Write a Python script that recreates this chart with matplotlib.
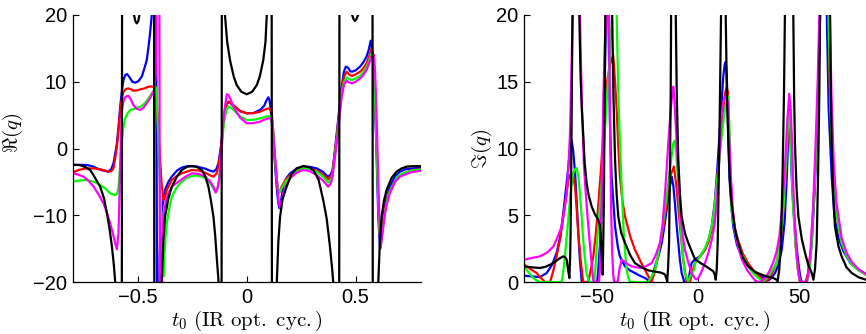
import numpy as np
import matplotlib
matplotlib.use("Agg")
import matplotlib.pyplot as plt

nan = np.nan
BR = (nan, nan)  # break between branches of a curve

# ---------------- Re(q) versus t0 (left panel) ----------------
re_black = [
    (-0.80, -2.47), (-0.78, -2.45), (-0.765, -2.5), (-0.74, -2.8), (-0.719, -3.22), (-0.70, -4.2),
    (-0.673, -5.72), (-0.655, -7.5), (-0.642, -9.7), (-0.63, -12.0), (-0.619, -14.7), (-0.61, -17.5),
    (-0.604, -20.0), (-0.598, -24.0), BR,
    (-0.574, -40.0), (-0.572, 40.0), BR,
    (-0.528, 24.0), (-0.52, 20.5), (-0.512, 19.1), (-0.505, 18.75), (-0.498, 19.1), (-0.49, 20.5),
    (-0.482, 24.0), BR,
    (-0.426, 40.0), (-0.424, -40.0), BR,
    (-0.395, -26.0), (-0.39, -19.5), (-0.383, -14.0), (-0.375, -10.2), (-0.36, -7.5), (-0.344, -5.72),
    (-0.32, -4.2), (-0.298, -3.22), (-0.275, -2.75), (-0.252, -2.62), (-0.23, -2.75), (-0.206, -3.22),
    (-0.19, -4.2), (-0.176, -5.72), (-0.165, -7.7), (-0.153, -10.2), (-0.145, -13.0), (-0.138, -16.2),
    (-0.13, -19.7), (-0.125, -24.0), BR,
    (-0.116, -40.0), (-0.114, 40.0), BR,
    (-0.104, 26.0), (-0.10, 20.0), (-0.09, 16.0), (-0.077, 13.26), (-0.06, 10.8), (-0.046, 9.5),
    (-0.025, 8.5), (0.0, 8.12), (0.025, 8.5), (0.046, 9.5), (0.06, 10.8), (0.076, 13.26), (0.086, 16.0),
    (0.092, 20.0), (0.096, 26.0), BR,
    (0.114, 40.0), (0.116, -40.0), BR,
    (0.133, -26.0), (0.138, -20.0), (0.145, -14.0), (0.153, -10.2), (0.165, -7.5), (0.183, -5.72),
    (0.205, -3.9), (0.229, -2.97), (0.26, -2.62), (0.285, -2.8), (0.306, -3.22), (0.33, -4.7),
    (0.351, -7.72), (0.367, -10.5), (0.382, -14.7), (0.392, -18.0), (0.397, -20.0), (0.402, -25.0), BR,
    (0.424, -40.0), (0.426, 40.0), BR,
    (0.478, 23.0), (0.484, 20.0), (0.49, 19.4), (0.497, 19.1), (0.504, 19.4), (0.511, 20.0), (0.517, 23.0), BR,
    (0.577, 40.0), (0.579, -40.0), BR,
    (0.60, -26.0), (0.604, -20.0), (0.61, -15.0), (0.619, -10.2), (0.63, -7.8), (0.642, -6.2),
    (0.665, -4.4), (0.688, -3.47), (0.71, -3.0), (0.734, -2.72), (0.76, -2.65), (0.80, -2.65),
]

re_blue = [
    (-0.80, -2.47), (-0.765, -2.45), (-0.734, -2.47), (-0.71, -2.65), (-0.688, -2.97), (-0.66, -3.3),
    (-0.635, -3.47), (-0.622, -3.1), (-0.612, -2.22), (-0.604, -0.8), (-0.596, 0.78), (-0.588, 3.5),
    (-0.581, 6.26), (-0.573, 8.7), (-0.566, 10.26), (-0.558, 11.0), (-0.55, 11.16), (-0.543, 10.9),
    (-0.535, 10.5), (-0.525, 10.0), (-0.512, 9.86), (-0.497, 10.1), (-0.482, 10.76), (-0.47, 12.0),
    (-0.459, 13.26), (-0.45, 15.5), (-0.444, 17.25), (-0.436, 20.0), (-0.43, 24.0), BR,
    (-0.418, 40.0), (-0.410, -40.0), BR,
    (-0.406, -40.0), (-0.40, -16.0), (-0.395, -11.5), (-0.39, -9.2), (-0.375, -6.2), (-0.36, -5.0),
    (-0.344, -4.2), (-0.32, -3.3), (-0.298, -2.85), (-0.268, -2.62), (-0.23, -2.7), (-0.191, -3.02),
    (-0.17, -3.3), (-0.153, -3.47), (-0.14, -3.1), (-0.13, -2.22), (-0.122, -0.5), (-0.115, 1.27),
    (-0.108, 3.6), (-0.10, 5.77), (-0.092, 6.6), (-0.084, 7.0), (-0.075, 6.8), (-0.061, 6.37),
    (-0.03, 5.6), (0.0, 5.27), (0.03, 5.3), (0.061, 5.77), (0.08, 6.4), (0.092, 7.3), (0.099, 7.67),
    (0.105, 7.2), (0.11, 5.77), (0.118, 3.0), (0.125, -0.22), (0.132, -3.5), (0.14, -6.7), (0.145, -8.2),
    (0.15, -8.96), (0.157, -7.8), (0.168, -5.72), (0.183, -4.4), (0.199, -3.72), (0.23, -3.0),
    (0.26, -2.72), (0.29, -2.75), (0.321, -2.97), (0.35, -3.5), (0.365, -4.0), (0.374, -4.22),
    (0.385, -3.9), (0.394, -3.22), (0.403, -0.8), (0.413, 2.27), (0.425, 6.0), (0.436, 9.26),
    (0.446, 11.5), (0.455, 12.26), (0.465, 12.1), (0.475, 11.6), (0.482, 11.5), (0.50, 11.7),
    (0.52, 12.26), (0.535, 12.9), (0.55, 13.76), (0.56, 14.8), (0.569, 16.15), (0.575, 15.0),
    (0.581, 12.26), (0.587, 7.5), (0.593, 2.3), (0.598, -3.5), (0.604, -10.2), (0.611, -14.7),
    (0.618, -12.8), (0.627, -10.2), (0.64, -7.6), (0.657, -5.72), (0.68, -4.2), (0.703, -3.47),
    (0.73, -3.1), (0.764, -2.97), (0.80, -2.9),
]

re_red = [
    (-0.80, -3.62), (-0.77, -3.2), (-0.734, -2.97), (-0.70, -3.0), (-0.673, -3.12), (-0.65, -3.3),
    (-0.635, -3.47), (-0.622, -3.4), (-0.612, -2.97), (-0.604, -1.5), (-0.596, 0.27), (-0.588, 3.0),
    (-0.581, 5.77), (-0.573, 7.5), (-0.566, 8.5), (-0.555, 8.9), (-0.543, 9.0), (-0.53, 8.85),
    (-0.52, 8.66), (-0.505, 8.7), (-0.489, 8.86), (-0.47, 9.0), (-0.451, 9.26), (-0.436, 9.3),
    (-0.425, 9.2), (-0.418, 8.5), (-0.41, 5.0), (-0.40, -0.5), (-0.39, -5.72), (-0.382, -7.72),
    (-0.375, -7.2), (-0.367, -6.2), (-0.344, -4.72), (-0.32, -4.1), (-0.298, -3.72), (-0.252, -3.22),
    (-0.22, -3.3), (-0.191, -3.62), (-0.17, -4.0), (-0.153, -4.22), (-0.14, -3.8), (-0.13, -2.72),
    (-0.122, -0.8), (-0.115, 1.27), (-0.108, 3.6), (-0.10, 5.77), (-0.092, 6.6), (-0.084, 7.0),
    (-0.075, 6.9), (-0.061, 6.5), (-0.03, 5.6), (0.0, 5.27), (0.03, 5.3), (0.061, 5.5), (0.08, 5.8),
    (0.099, 6.0), (0.108, 5.9), (0.115, 5.27), (0.122, 2.5), (0.13, -1.72), (0.138, -4.8),
    (0.145, -6.7), (0.152, -6.4), (0.16, -5.72), (0.18, -4.6), (0.199, -3.97), (0.23, -3.3),
    (0.26, -2.97), (0.29, -3.05), (0.321, -3.32), (0.35, -3.9), (0.374, -4.62), (0.385, -4.3),
    (0.394, -3.47), (0.403, -1.0), (0.413, 1.77), (0.425, 5.5), (0.436, 8.76), (0.447, 10.8),
    (0.459, 11.5), (0.47, 11.1), (0.482, 10.86), (0.50, 11.1), (0.52, 11.5), (0.535, 12.0),
    (0.55, 12.76), (0.562, 13.8), (0.573, 15.0), (0.579, 14.0), (0.584, 12.26), (0.59, 7.0),
    (0.596, 1.27), (0.602, -5.5), (0.608, -11.7), (0.616, -14.2), (0.625, -11.2), (0.635, -9.0),
    (0.65, -6.8), (0.665, -5.97), (0.69, -4.4), (0.718, -3.72), (0.76, -3.25), (0.80, -3.12),
]

re_green = [
    (-0.80, -4.97), (-0.77, -4.8), (-0.734, -4.72), (-0.70, -5.0), (-0.673, -5.47), (-0.65, -6.0),
    (-0.627, -6.72), (-0.604, -6.97), (-0.596, -6.8), (-0.589, -5.97), (-0.581, -2.5), (-0.573, 1.27),
    (-0.566, 3.2), (-0.558, 4.52), (-0.547, 5.3), (-0.535, 5.77), (-0.51, 6.0), (-0.489, 6.26),
    (-0.47, 6.7), (-0.451, 7.52), (-0.435, 8.3), (-0.425, 8.76), (-0.416, 9.16), (-0.41, 5.0),
    (-0.40, -4.0), (-0.39, -12.0), (-0.383, -19.2), (-0.378, -16.0), (-0.372, -13.0), (-0.367, -11.2),
    (-0.355, -8.8), (-0.344, -7.22), (-0.325, -6.0), (-0.306, -5.22), (-0.28, -4.5), (-0.252, -4.12),
    (-0.23, -4.05), (-0.206, -4.2), (-0.185, -4.6), (-0.168, -5.22), (-0.155, -5.9), (-0.145, -6.47),
    (-0.135, -6.0), (-0.127, -4.72), (-0.12, -2.2), (-0.115, -0.22), (-0.108, 2.8), (-0.10, 4.77),
    (-0.092, 5.8), (-0.084, 6.3), (-0.075, 6.2), (-0.061, 5.77), (-0.03, 4.8), (0.0, 4.27), (0.03, 4.3),
    (0.061, 4.52), (0.08, 4.7), (0.099, 4.87), (0.108, 4.8), (0.115, 4.52), (0.122, 1.8), (0.13, -1.72),
    (0.138, -4.8), (0.145, -6.47), (0.152, -6.5), (0.16, -5.97), (0.18, -4.9), (0.199, -4.22),
    (0.23, -3.4), (0.26, -2.97), (0.29, -3.1), (0.321, -3.47), (0.35, -4.2), (0.374, -5.12),
    (0.385, -4.8), (0.394, -3.97), (0.403, -1.5), (0.413, 1.27), (0.425, 5.0), (0.436, 8.26),
    (0.447, 10.0), (0.459, 10.66), (0.47, 10.4), (0.482, 10.26), (0.50, 10.5), (0.52, 10.86),
    (0.535, 11.5), (0.55, 12.26), (0.562, 13.2), (0.573, 14.26), (0.58, 13.0), (0.586, 10.0),
    (0.592, 5.0), (0.598, -2.0), (0.604, -8.0), (0.61, -12.5), (0.617, -13.8), (0.625, -12.0),
    (0.635, -9.5), (0.65, -7.0), (0.665, -5.8), (0.69, -4.3), (0.718, -3.7), (0.76, -3.3), (0.80, -3.15),
]

re_magenta = [
    (-0.80, -3.72), (-0.775, -3.9), (-0.749, -4.22), (-0.725, -4.9), (-0.703, -5.72), (-0.68, -6.9),
    (-0.658, -8.22), (-0.64, -9.8), (-0.627, -11.2), (-0.615, -12.7), (-0.604, -14.2), (-0.596, -15.1),
    (-0.589, -12.7), (-0.585, -8.0), (-0.581, -2.72), (-0.577, 2.0), (-0.573, 5.77), (-0.566, 7.1),
    (-0.558, 7.67), (-0.55, 7.85), (-0.543, 7.87), (-0.535, 7.5), (-0.52, 6.52), (-0.505, 5.95),
    (-0.489, 5.77), (-0.475, 6.1), (-0.459, 6.77), (-0.445, 7.5), (-0.436, 8.02), (-0.425, 8.76),
    (-0.418, 11.0), (-0.41, 40.0), BR,
    (-0.402, 40.0), (-0.398, -40.0), BR,
    (-0.392, -40.0), (-0.388, -14.0), (-0.383, -10.2), (-0.372, -8.0), (-0.36, -6.7), (-0.34, -5.6),
    (-0.314, -4.97), (-0.28, -4.2), (-0.252, -3.72), (-0.22, -3.8), (-0.191, -4.22), (-0.17, -4.9),
    (-0.153, -5.72), (-0.142, -6.6), (-0.134, -6.0), (-0.127, -4.72), (-0.12, -1.8), (-0.115, 0.78),
    (-0.108, 3.8), (-0.10, 6.26), (-0.092, 8.12), (-0.084, 8.02), (-0.075, 7.4), (-0.061, 6.26),
    (-0.03, 4.6), (0.0, 3.77), (0.03, 3.8), (0.061, 4.02), (0.08, 4.3), (0.099, 4.52), (0.108, 4.5),
    (0.115, 4.27), (0.122, 1.8), (0.13, -1.22), (0.138, -4.5), (0.145, -7.72), (0.153, -8.96),
    (0.16, -7.9), (0.168, -6.7), (0.183, -5.4), (0.199, -4.47), (0.23, -3.6), (0.26, -3.22),
    (0.29, -3.4), (0.321, -3.97), (0.35, -4.8), (0.374, -5.72), (0.385, -5.3), (0.394, -4.22),
    (0.403, -1.8), (0.413, 0.78), (0.425, 4.5), (0.436, 7.77), (0.447, 9.6), (0.459, 10.16),
    (0.47, 9.9), (0.482, 9.77), (0.50, 10.0), (0.52, 10.5), (0.535, 11.0), (0.55, 11.76),
    (0.562, 12.8), (0.573, 13.76), (0.584, 14.0), (0.589, 11.5), (0.593, 8.26), (0.599, 1.5),
    (0.604, -5.22), (0.609, -10.5), (0.614, -14.96), (0.62, -13.5), (0.627, -11.7), (0.64, -8.7),
    (0.657, -6.7), (0.68, -5.0), (0.703, -4.22), (0.75, -3.6), (0.80, -3.32),
]

# ---------------- Im(q) versus t0 (right panel) ----------------
im_black = [
    (-85.7, 1.17), (-82.0, 1.1), (-78.0, 1.05), (-75.0, 1.15), (-71.4, 1.42), (-68.5, 1.75),
    (-66.5, 1.92), (-65.5, 1.85), (-64.8, 1.67), (-64.2, 1.0), (-63.5, 0.3), (-63.1, 2.0),
    (-62.9, 3.66), (-62.5, 10.0), (-62.2, 16.0), (-61.9, 20.0), (-61.7, 25.0), BR,
    (-58.9, 25.0), (-58.6, 20.0), (-58.0, 15.5), (-57.4, 13.0), (-56.7, 11.14), (-56.0, 9.0),
    (-55.0, 7.4), (-54.0, 6.5), (-52.5, 5.65), (-51.0, 5.1), (-49.3, 4.66), (-48.6, 4.3),
    (-48.1, 3.66), (-47.6, 2.0), (-47.1, 0.55), (-46.8, 3.0), (-46.5, 6.16), (-46.2, 12.0),
    (-45.8, 20.0), (-45.6, 25.0), BR,
    (-42.6, 25.0), (-42.4, 20.0), (-41.8, 14.0), (-41.0, 9.15), (-40.2, 6.5), (-39.4, 4.91),
    (-38.0, 3.7), (-36.1, 2.92), (-33.5, 2.0), (-31.2, 1.42), (-28.0, 1.1), (-24.6, 0.87),
    (-21.5, 0.78), (-18.9, 0.72), (-17.0, 0.62), (-16.4, 0.55), (-15.8, 0.3), (-15.3, 0.05),
    (-14.9, 1.0), (-14.4, 2.92), (-14.0, 8.0), (-13.6, 14.0), (-13.4, 20.0), (-13.2, 25.0), BR,
    (-11.3, 25.0), (-11.1, 20.0), (-10.6, 14.0), (-9.85, 9.15), (-9.0, 6.5), (-8.2, 4.91),
    (-6.5, 3.6), (-4.9, 2.92), (-3.0, 2.2), (-1.6, 1.7), (0.8, 1.45), (3.3, 1.22), (5.5, 1.0),
    (7.4, 0.8), (8.2, 0.5), (8.6, 0.17), (9.1, 1.0), (9.55, 2.92), (10.0, 7.0), (10.6, 13.0),
    (11.2, 20.0), (11.4, 25.0), BR,
    (13.3, 25.0), (13.5, 20.0), (14.1, 14.0), (14.8, 10.4), (15.6, 7.5), (16.4, 5.9), (18.0, 4.0),
    (19.7, 2.92), (22.0, 1.8), (24.6, 1.17), (28.0, 0.75), (31.2, 0.55), (34.0, 0.4), (36.9, 0.3),
    (38.3, 0.2), (39.1, 0.05), (39.9, 1.0), (40.7, 2.92), (41.5, 8.0), (42.2, 14.0), (42.7, 20.0),
    (42.9, 25.0), BR,
    (46.6, 25.0), (46.8, 20.0), (47.2, 14.0), (47.6, 10.4), (48.4, 7.0), (49.3, 4.91), (51.0, 3.2),
    (52.6, 2.17), (54.3, 1.2), (55.9, 0.67), (56.7, 0.17), (57.5, 1.0), (58.3, 2.92), (59.0, 8.0),
    (59.6, 14.0), (60.0, 20.0), (60.2, 25.0), BR,
    (64.7, 25.0), (64.9, 20.0), (65.3, 14.0), (65.7, 10.4), (66.5, 6.5), (67.3, 4.16), (69.0, 2.7),
    (70.6, 1.92), (73.0, 1.1), (75.6, 0.67), (79.0, 0.35), (82.6, 0.17),
]

im_blue = [
    (-85.7, 0.47), (-82.0, 0.42), (-78.0, 0.37), (-74.7, 0.67), (-72.0, 1.3), (-69.8, 2.17),
    (-68.0, 3.4), (-66.5, 5.16), (-65.0, 7.2), (-64.0, 8.65), (-63.2, 9.8), (-62.4, 10.64),
    (-61.6, 9.8), (-60.7, 8.15), (-59.9, 6.0), (-59.1, 3.66), (-58.3, 1.6), (-57.4, 0.0),
    (-49.8, 0.0), (-49.3, 0.8), (-48.4, 2.92), (-47.6, 6.0), (-46.8, 10.4), (-46.0, 15.5),
    (-45.5, 20.0), (-45.3, 25.0), BR,
    (-44.5, 25.0), (-44.3, 20.0), (-43.5, 12.0), (-42.7, 7.9), (-41.0, 4.16), (-39.6, 2.6),
    (-38.6, 1.92), (-36.1, 1.17), (-33.5, 0.85), (-31.2, 0.67), (-28.5, 0.45), (-26.3, 0.3),
    (-23.8, 0.05), (-22.5, 0.5), (-21.3, 1.17), (-19.5, 2.0), (-18.0, 2.92), (-16.8, 4.1),
    (-15.6, 5.4), (-14.2, 7.0), (-13.1, 7.9), (-12.3, 7.2), (-11.5, 5.9), (-10.7, 4.3),
    (-9.85, 2.92), (-9.0, 1.6), (-8.2, 0.67), (-6.9, 0.0), (-4.9, 0.0), (-4.1, 0.8), (-3.3, 1.42),
    (-1.6, 1.7), (0.8, 1.92), (3.3, 2.42), (5.0, 3.1), (6.6, 4.16), (8.0, 5.8), (9.1, 7.9),
    (10.7, 11.6), (11.5, 13.5), (12.3, 15.4), (13.0, 16.3), (13.5, 16.5), (14.0, 15.5), (14.3, 14.1),
    (14.8, 11.0), (15.3, 7.9), (16.2, 5.8), (17.2, 4.16), (19.0, 2.8), (21.4, 1.92), (24.0, 1.3),
    (26.3, 0.92), (29.0, 0.62), (31.2, 0.42), (34.5, 0.12), (36.0, 0.3), (37.8, 0.67), (39.5, 1.3),
    (41.1, 2.42), (42.5, 4.5), (43.6, 7.9), (44.3, 11.0), (44.7, 12.9), (45.2, 11.5), (46.0, 7.9),
    (46.8, 5.5), (47.6, 4.16), (48.5, 2.5), (49.3, 1.42), (50.1, 0.5), (50.9, 0.0), (53.4, 0.0),
    (54.5, 1.0), (55.9, 2.92), (57.2, 6.5), (58.3, 10.4), (59.2, 15.0), (59.9, 20.0), (60.2, 25.0), BR,
    (63.1, 25.0), (63.3, 20.0), (64.2, 13.0), (65.7, 7.9), (67.0, 5.0), (69.0, 3.3), (71.5, 2.3),
    (75.0, 1.4), (79.0, 0.9), (82.6, 0.6),
]

im_red = [
    (-85.7, 1.3), (-82.5, 0.95), (-79.6, 0.67), (-77.5, 0.3), (-75.5, 0.0), (-73.0, 0.0),
    (-71.5, 0.8), (-69.8, 1.92), (-68.0, 3.3), (-66.5, 4.91), (-65.0, 6.5), (-64.0, 7.65),
    (-63.2, 8.0), (-62.4, 8.15), (-61.5, 7.8), (-60.7, 7.15), (-59.9, 5.5), (-59.1, 3.66),
    (-58.0, 1.7), (-56.7, 0.0), (-54.2, 0.0), (-53.0, 0.9), (-51.7, 1.92), (-50.5, 3.6),
    (-49.3, 5.65), (-48.0, 8.3), (-46.8, 11.14), (-45.1, 14.9), (-43.5, 16.3), (-41.9, 17.0),
    (-41.0, 15.0), (-40.2, 12.9), (-39.4, 10.2), (-38.6, 7.9), (-37.3, 6.0), (-36.1, 4.91),
    (-33.5, 3.4), (-31.2, 2.42), (-28.5, 1.55), (-26.3, 0.92), (-24.5, 0.4), (-23.0, 0.0),
    (-21.8, 0.6), (-20.5, 1.42), (-18.8, 2.8), (-17.2, 4.16), (-15.5, 6.0), (-13.9, 7.9),
    (-12.0, 8.65), (-11.3, 7.8), (-10.6, 6.9), (-9.8, 5.5), (-9.0, 4.16), (-8.2, 2.9), (-7.4, 1.67),
    (-6.5, 0.7), (-5.7, 0.0), (-4.1, 0.0), (-2.9, 0.8), (-1.6, 1.42), (0.8, 1.92), (3.3, 2.42),
    (5.0, 3.0), (6.6, 3.91), (8.0, 5.4), (9.1, 7.4), (10.3, 9.5), (11.5, 11.6), (12.3, 13.0),
    (13.2, 14.1), (14.0, 14.6), (14.6, 14.2), (15.3, 10.0), (16.4, 5.9), (18.0, 4.0), (19.7, 3.1),
    (22.0, 2.1), (24.6, 1.4), (27.0, 0.9), (29.6, 0.5), (32.0, 0.1), (33.0, 0.0), (34.5, 0.2),
    (36.5, 0.7), (38.6, 1.5), (40.5, 3.0), (41.9, 5.4), (43.2, 8.5), (44.3, 11.5), (45.0, 12.5),
    (45.7, 11.5), (46.8, 6.0), (47.8, 3.0), (49.0, 1.0), (50.1, 0.0), (52.8, 0.0), (54.0, 0.6),
    (55.5, 2.5), (57.0, 6.5), (58.3, 11.0), (59.3, 16.0), (60.0, 20.0), (60.3, 25.0), BR,
    (63.8, 25.0), (64.0, 20.0), (65.0, 13.0), (66.5, 7.9), (68.0, 5.0), (70.6, 3.0), (73.0, 2.0),
    (75.6, 1.4), (79.0, 0.9), (82.6, 0.55),
]

im_green = [
    (-85.7, 1.17), (-83.5, 0.7), (-81.3, 0.3), (-79.5, 0.1), (-78.0, 0.0), (-67.3, 0.0),
    (-66.5, 0.8), (-65.7, 1.92), (-64.5, 3.9), (-63.2, 6.16), (-62.4, 7.3), (-61.6, 8.15),
    (-60.7, 8.45), (-59.9, 8.53), (-59.1, 7.9), (-58.3, 6.66), (-57.5, 5.0), (-56.7, 3.16),
    (-55.8, 1.7), (-55.0, 0.6), (-53.7, 0.0), (-51.2, 0.0), (-50.6, 1.2), (-50.0, 2.66),
    (-48.8, 5.0), (-47.6, 7.4), (-46.3, 10.5), (-45.1, 13.6), (-43.5, 17.0), (-42.5, 20.0),
    (-42.2, 25.0), BR,
    (-40.5, 25.0), (-40.2, 20.0), (-39.4, 14.0), (-38.6, 10.4), (-37.7, 7.0), (-36.9, 4.16),
    (-36.1, 2.3), (-35.3, 0.92), (-34.5, 0.3), (-33.6, 0.0), (-24.6, 0.0), (-23.0, 0.4),
    (-21.3, 0.92), (-19.6, 2.2), (-18.0, 3.66), (-16.4, 5.5), (-14.8, 7.4), (-13.5, 9.0),
    (-12.3, 10.4), (-11.5, 10.6), (-10.8, 9.5), (-10.1, 7.9), (-9.3, 5.8), (-8.5, 3.66), (-7.5, 1.9),
    (-6.6, 0.67), (-4.9, 0.0), (-4.1, 0.42), (-2.0, 0.92), (-1.6, 1.42), (0.8, 1.9), (3.3, 2.54),
    (5.0, 3.2), (6.6, 4.16), (8.0, 5.6), (9.1, 7.4), (10.3, 9.0), (11.5, 10.9), (12.8, 12.6),
    (14.0, 13.6), (14.8, 13.9), (15.4, 11.0), (16.0, 7.5), (16.4, 5.4), (18.0, 3.8), (19.7, 2.92),
    (22.0, 1.9), (24.6, 1.17), (27.0, 0.65), (29.6, 0.3), (32.0, 0.0), (34.5, 0.42), (36.5, 0.9),
    (38.6, 1.42), (40.3, 3.0), (41.9, 5.4), (43.2, 9.0), (44.3, 12.1), (44.7, 12.76), (45.3, 11.5),
    (46.0, 8.3), (46.8, 5.4), (47.7, 3.2), (48.5, 1.67), (49.3, 0.7), (50.1, 0.0), (53.4, 0.0),
    (54.2, 0.4), (55.0, 0.92), (56.2, 3.8), (57.5, 7.9), (58.7, 13.0), (59.6, 18.0), (60.0, 20.0),
    (60.3, 25.0), BR,
    (64.0, 25.0), (64.2, 20.0), (65.1, 13.0), (66.3, 8.3), (68.0, 5.0), (70.6, 2.9), (73.0, 2.0),
    (75.6, 1.3), (79.0, 0.85), (82.6, 0.55),
]

im_magenta = [
    (-85.7, 1.67), (-82.0, 1.8), (-78.0, 1.92), (-74.5, 2.2), (-71.4, 2.66), (-69.5, 3.3),
    (-67.3, 4.16), (-66.0, 5.3), (-64.8, 6.66), (-64.0, 8.5), (-63.2, 11.14), (-62.6, 15.0),
    (-61.9, 20.0), (-61.6, 25.0), BR,
    (-58.6, 25.0), (-58.3, 20.0), (-57.4, 13.6), (-56.8, 11.0), (-56.3, 8.65), (-55.5, 6.8),
    (-54.7, 5.16), (-54.0, 3.9), (-53.3, 2.66), (-52.5, 1.3), (-51.7, 0.1), (-50.9, 0.0),
    (-48.9, 0.0), (-48.4, 1.17), (-47.6, 6.16), (-46.8, 13.6), (-46.0, 18.0), (-45.2, 20.0),
    (-45.0, 25.0), BR,
    (-44.2, 25.0), (-44.0, 20.0), (-43.5, 12.0), (-43.0, 6.0), (-42.5, 2.5), (-41.9, 0.5),
    (-41.4, 0.0), (-39.7, 0.0), (-38.8, 1.0), (-37.7, 1.67), (-36.5, 1.55), (-34.5, 1.3),
    (-32.8, 1.17), (-30.0, 1.08), (-27.9, 1.05), (-25.5, 1.2), (-23.0, 1.42), (-21.0, 2.0),
    (-18.9, 2.92), (-17.6, 4.3), (-16.4, 6.66), (-15.6, 8.4), (-14.8, 10.4), (-13.6, 12.8),
    (-12.9, 14.0), (-12.3, 14.63), (-11.7, 13.5), (-11.2, 12.0), (-10.6, 10.4), (-9.8, 7.8),
    (-9.0, 5.4), (-7.8, 3.6), (-6.6, 2.42), (-5.0, 1.5), (-3.3, 0.67), (-1.6, 0.25), (-0.8, 0.2),
    (0.0, 0.3), (1.5, 0.75), (3.3, 1.42), (5.0, 2.2), (6.6, 3.16), (8.0, 4.3), (9.1, 5.9),
    (10.7, 10.4), (11.5, 12.5), (12.3, 13.5), (13.6, 14.0), (14.5, 13.5), (15.2, 11.0), (16.0, 8.0),
    (17.2, 5.0), (19.0, 3.0), (21.4, 1.7), (24.0, 0.9), (26.5, 0.4), (28.0, 0.1), (29.6, 0.0),
    (31.0, 0.05), (33.0, 0.3), (35.0, 0.8), (37.0, 1.5), (38.6, 2.3), (40.0, 3.5), (41.5, 5.9),
    (42.8, 9.0), (43.8, 12.0), (44.8, 14.1), (45.5, 13.0), (46.2, 10.0), (46.8, 7.0), (47.7, 4.0),
    (48.5, 2.0), (49.3, 0.7), (50.1, 0.0), (53.4, 0.0), (54.2, 0.6), (55.2, 2.2), (56.5, 5.5),
    (57.7, 10.0), (58.8, 15.0), (59.6, 20.0), (59.9, 25.0), BR,
    (64.5, 25.0), (64.8, 20.0), (65.6, 14.0), (66.7, 9.0), (68.0, 6.0), (70.6, 3.3), (73.0, 2.2),
    (75.6, 1.5), (79.0, 0.95), (82.6, 0.6),
]

re_ticks_x = [-0.5, 0, 0.5]
re_ticks_y = [-20, -10, 0, 10, 20]
im_ticks_x = [-50, 0, 50]
im_ticks_y = [0, 5, 10, 15, 20]

# ---------------- drawing ----------------
plt.rcParams["mathtext.fontset"] = "cm"
plt.rcParams["font.family"] = ["Liberation Sans", "DejaVu Sans"]

W, H = 866, 334
fig = plt.figure(figsize=(W / 100, H / 100), dpi=100)

def px_box(x0, x1, ytop, ybot):
    return [x0 / W, 1 - ybot / H, (x1 - x0) / W, (ybot - ytop) / H]

ax1 = fig.add_axes(px_box(72.5, 421, 15, 282))
ax2 = fig.add_axes(px_box(524.3, 866, 15, 282))

colors = {"blue": (0, 0, 1), "red": (1, 0, 0), "green": (0, 1, 0), "magenta": (1, 0, 1), "black": (0, 0, 0)}

def draw(ax, series):
    for name, pts in series:
        arr = np.array(pts, dtype=float)
        ax.plot(arr[:, 0], arr[:, 1], color=colors[name], lw=1.6, solid_joinstyle="round")

draw(ax1, [("blue", re_blue), ("red", re_red), ("green", re_green), ("magenta", re_magenta), ("black", re_black)])
draw(ax2, [("blue", im_blue), ("red", im_red), ("green", im_green), ("magenta", im_magenta), ("black", im_black)])

ax1.set_xlim(-0.8, 0.8)
ax1.set_ylim(-20, 20)
ax1.set_xticks(re_ticks_x)
ax1.set_xticklabels(["\u22120.5", "0", "0.5"])
ax1.set_yticks(re_ticks_y)
ax1.set_yticklabels(["\u221220", "\u221210", "0", "10", "20"])

ax2.set_xlim(-85.7, 82.6)
ax2.set_ylim(0, 20)
ax2.set_xticks(im_ticks_x)
ax2.set_xticklabels(["\u221250", "0", "50"])
ax2.set_yticks(im_ticks_y)
ax2.set_yticklabels(["0", "5", "10", "15", "20"])

for ax in (ax1, ax2):
    for side in ("top", "right"):
        ax.spines[side].set_visible(False)
    for side in ("left", "bottom"):
        ax.spines[side].set_linewidth(0.9)
        ax.spines[side].set_color("black")
    ax.tick_params(direction="in", length=4, width=0.8, labelsize=14.5, pad=4)
    ax.set_xlabel(r"$t_0\ \mathrm{(IR\ opt.\ cyc.)}$", fontsize=15, labelpad=2)

ax1.set_ylabel(r"$\Re(q)$", fontsize=15)
ax2.set_ylabel(r"$\Im(q)$", fontsize=15)
ax1.yaxis.set_label_coords(-0.135, 0.56)
ax2.yaxis.set_label_coords(-0.09, 0.5)

fig.savefig("out.png", dpi=100)
